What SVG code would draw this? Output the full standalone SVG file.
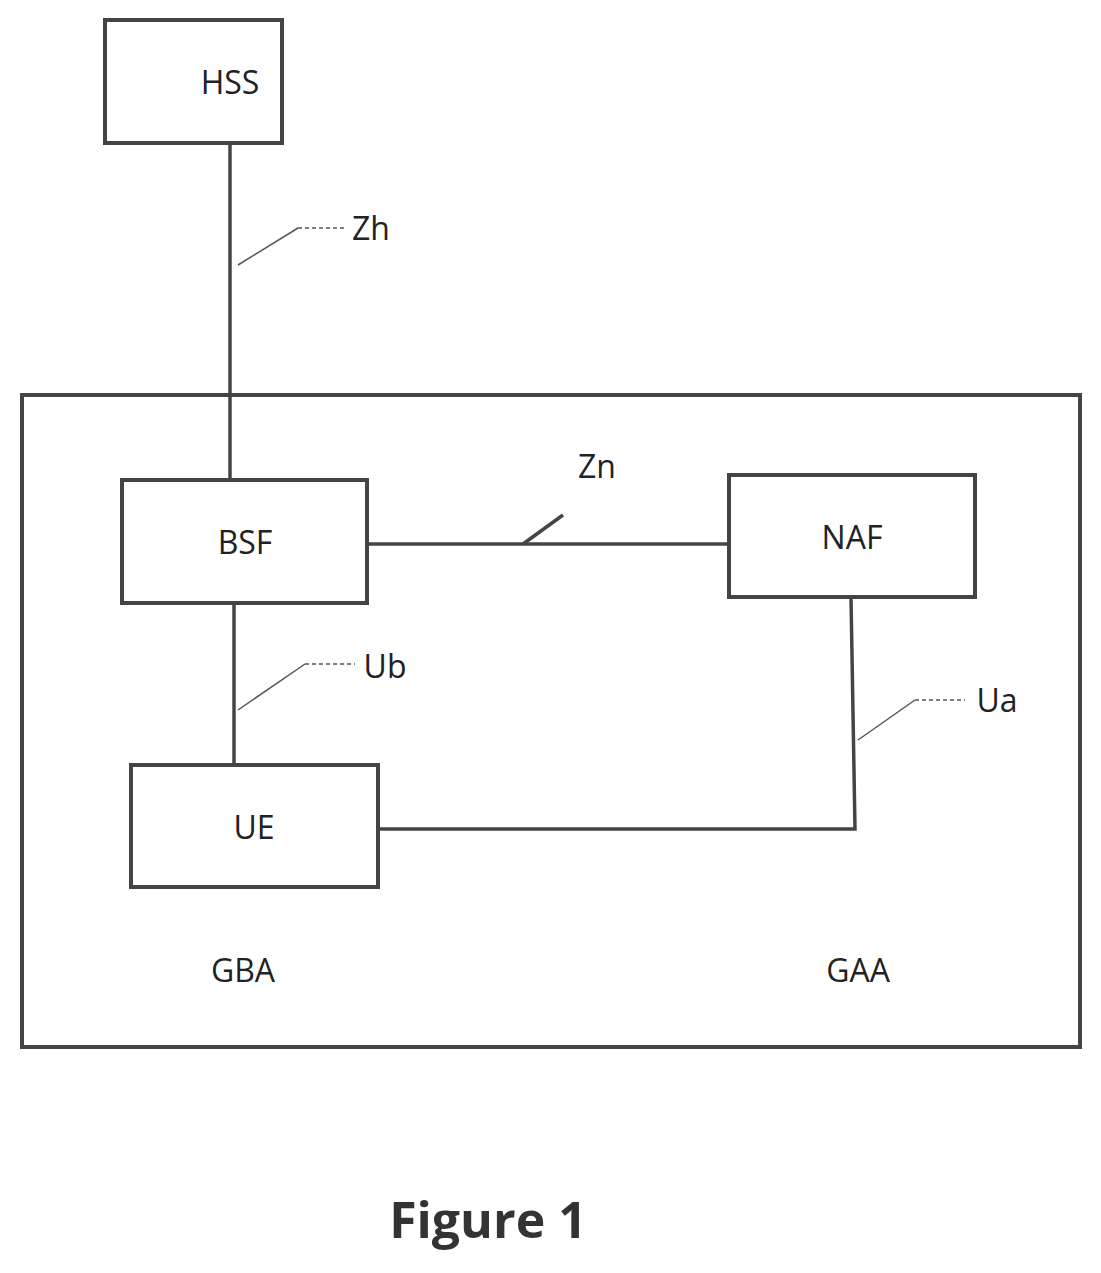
<svg xmlns="http://www.w3.org/2000/svg" width="1101" height="1273" viewBox="0 0 1101 1273">
<style>
.box{fill:#fff;stroke:#444;stroke-width:4}
.ln{fill:none;stroke:#444;stroke-width:3.5}
.ld{fill:none;stroke:#555;stroke-width:1.5}
.ds{fill:none;stroke:#555;stroke-width:1.5;stroke-dasharray:4 3}
.t{font-family:"Open Sans","Liberation Sans",sans-serif;font-size:32px;fill:#222;text-anchor:middle}
</style>
<rect width="1101" height="1273" fill="#fff"/>
<g id="gaa"><rect class="box" x="22" y="395" width="1058" height="652"/>
<text class="t" x="243" y="982">GBA</text><text class="t" x="858" y="982">GAA</text></g>
<g id="connectors">
<path class="ln" d="M230 143V480"/>
<path class="ld" d="M238 265L298 228"/><path class="ds" d="M298 228H345"/>
<path class="ln" d="M367 544H729"/>
<path class="ln" d="M523 544L563 515"/>
<path class="ln" d="M234 603V765"/>
<path class="ld" d="M238 710L305 664"/><path class="ds" d="M305 664H355"/>
<path class="ln" d="M851 597L855 829H378"/>
<path class="ld" d="M858 740L915 700"/><path class="ds" d="M915 700H965"/>
<text class="t" x="371" y="240">Zh</text>
<text class="t" x="597" y="478">Zn</text>
<text class="t" x="385" y="678">Ub</text>
<text class="t" x="997" y="712">Ua</text>
</g>
<g id="hss"><rect class="box" x="105" y="20" width="177" height="123"/><text class="t" x="230" y="94">HSS</text></g>
<g id="bsf"><rect class="box" x="122" y="480" width="245" height="123"/><text class="t" x="245" y="554">BSF</text></g>
<g id="naf"><rect class="box" x="729" y="475" width="246" height="122"/><text class="t" x="852" y="549">NAF</text></g>
<g id="ue"><rect class="box" x="131" y="765" width="247" height="122"/><text class="t" x="254" y="839">UE</text></g>
<text x="488" y="1238" font-family="Open Sans,Liberation Sans,sans-serif" font-size="50" font-weight="bold" fill="#333" text-anchor="middle">Figure 1</text>
</svg>
